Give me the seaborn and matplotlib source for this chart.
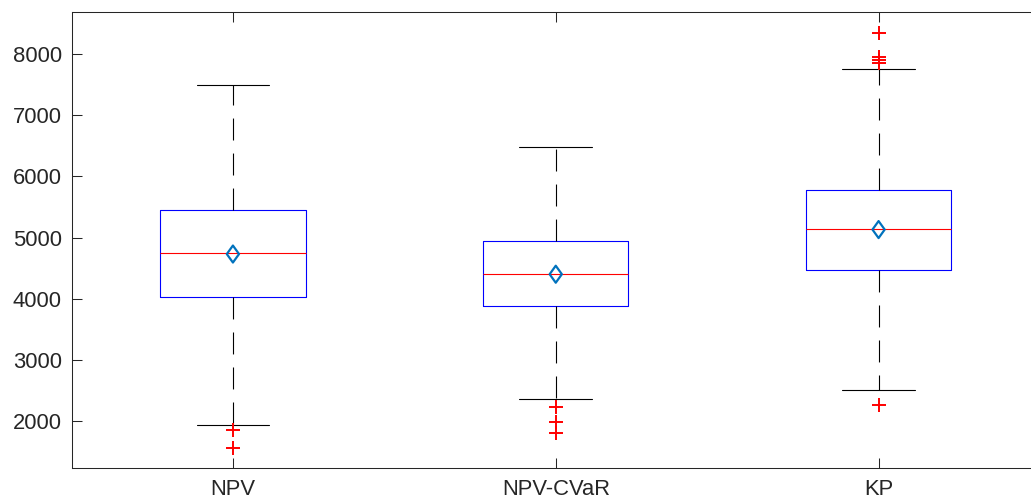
import matplotlib
matplotlib.use("Agg")
import matplotlib.pyplot as plt
from matplotlib.path import Path
import pandas as pd
import seaborn as sns

# Summary statistics per strategy
strategies = ["NPV", "NPV-CVaR", "KP"]
q1 = [4028, 3880, 4468]
medians = [4745, 4410, 5134]
q3 = [5450, 4943, 5776]
whisker_low = [1934, 2359, 2506]
whisker_high = [7493, 6480, 7750]
means = [4730, 4400, 5130]

# Outlying observations (strategy, value)
outlier_strategy = ["NPV", "NPV", "NPV-CVaR", "NPV-CVaR", "NPV-CVaR",
                    "KP", "KP", "KP", "KP", "KP"]
outlier_value = [1853, 1553, 2224, 1983, 1808,
                 8349, 7951, 7902, 7848, 2261]

y_ticks = [2000, 3000, 4000, 5000, 6000, 7000, 8000]

sns.set_style("ticks")
plt.rcParams["font.family"] = ["Liberation Sans", "DejaVu Sans"]
plt.rcParams["lines.scale_dashes"] = False

axis_grey = "#262626"
fig = plt.figure(figsize=(10.31, 5.04), dpi=100)
ax = fig.add_axes([71.5 / 1031, 36 / 504, (1040 - 71.5) / 1031, 456 / 504])

positions = list(range(len(strategies)))
stats = [
    dict(label=s, q1=a, med=m, q3=b, whislo=lo, whishi=hi, fliers=[])
    for s, a, m, b, lo, hi in zip(strategies, q1, medians, q3, whisker_low, whisker_high)
]
ax.bxp(
    stats, positions=positions, widths=0.45, showfliers=False, manage_ticks=False,
    boxprops=dict(color=(0, 0, 1), linewidth=0.8),
    medianprops=dict(color=(1, 0, 0), linewidth=0.8),
    whiskerprops=dict(color="black", linewidth=0.8, linestyle=(0, (15.8, 9.4))),
    capprops=dict(color="black", linewidth=0.8),
)

pos_of = {s: i for i, s in enumerate(strategies)}
outliers = pd.DataFrame({"x": [pos_of[s] for s in outlier_strategy], "y": outlier_value})
sns.scatterplot(data=outliers, x="x", y="y", ax=ax, marker="+", s=90,
                color=(1, 0, 0), linewidth=1.4, zorder=3, legend=False)

diamond = Path([(0, 1), (0.72, 0), (0, -1), (-0.72, 0), (0, 1)], closed=True)
mean_df = pd.DataFrame({"x": positions, "y": means})
sns.scatterplot(data=mean_df, x="x", y="y", ax=ax, marker=diamond, s=150,
                facecolor="none", edgecolor=(0, 0.447, 0.741), linewidth=1.6,
                zorder=4, legend=False)

ax.set_xlim(-0.5, 2.5)
ax.set_ylim(1232, 8687)
ax.set_xticks(positions)
ax.set_xticklabels(strategies)
ax.set_yticks(y_ticks)
ax.set_xlabel("")
ax.set_ylabel("")

for side in ["top", "bottom", "left", "right"]:
    ax.spines[side].set_visible(True)
    ax.spines[side].set_color(axis_grey)
    ax.spines[side].set_linewidth(0.75)
ax.tick_params(axis="both", direction="in", length=7, width=0.75, color=axis_grey,
               labelsize=15.8, labelcolor=axis_grey, top=True, right=False)
ax.tick_params(axis="x", pad=8)
ax.tick_params(axis="y", pad=7)

fig.savefig("out.png", dpi=100)
